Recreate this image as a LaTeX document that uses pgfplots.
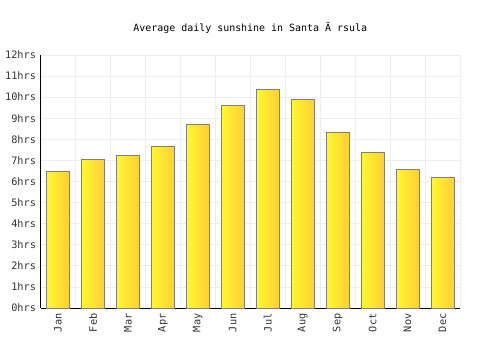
\documentclass[border=0pt]{standalone}
\usepackage{fontspec}
\setmainfont{DejaVu Sans Mono}
\usepackage{pgfplots}
\pgfplotsset{compat=1.18}
\definecolor{barL}{HTML}{FFF830}
\definecolor{barR}{HTML}{FFCF33}
\definecolor{barE}{HTML}{808080}
\definecolor{gridc}{HTML}{EEEEEE}
\pgfplotsset{mybar/.style={draw=barE, line width=0.8pt, left color=barL, right color=barR}}
\begin{document}
\begin{tikzpicture}[x=1bp,y=1bp]
\path (0,0) rectangle (500,350);
\begin{axis}[
  at={(40.5bp,42bp)}, anchor=south west,
  scale only axis, width=419.5bp, height=253bp,
  xmin=-0.5, xmax=11.5, ymin=0, ymax=12,
  axis x line*=bottom, axis y line*=left,
  axis line style={-, black, line width=0.8pt},
  xtick={0,...,11},
  xticklabels={Jan,Feb,Mar,Apr,May,Jun,Jul,Aug,Sep,Oct,Nov,Dec},
  minor xtick={-0.5,0.5,...,11.5},
  ytick={0,...,12},
  yticklabel={\pgfmathprintnumber{\tick}hrs},
  /pgf/number format/assume math mode=true,
  major tick length=0pt, minor tick length=0pt,
  ymajorgrids, xminorgrids,
  grid style={gridc, line width=0.8pt},
  minor grid style={gridc, line width=0.8pt},
  tick label style={font=\fontsize{10.3}{12}\selectfont, text=black!80},
  xticklabel style={rotate=90, anchor=east, xshift=-2bp},
  yticklabel style={xshift=-1bp},
  title={Average daily sunshine in Santa Ã rsula},
  title style={font=\fontsize{10}{12}\selectfont, anchor=center, at={(axis description cs:0.5,1)}, yshift=21bp},
  ybar, bar width=23bp, bar shift=0pt,
  clip=false,
]
\addplot[mybar] coordinates {(0,6.48)};
\addplot[mybar] coordinates {(1,7.05)};
\addplot[mybar] coordinates {(2,7.24)};
\addplot[mybar] coordinates {(3,7.66)};
\addplot[mybar] coordinates {(4,8.71)};
\addplot[mybar] coordinates {(5,9.61)};
\addplot[mybar] coordinates {(6,10.37)};
\addplot[mybar] coordinates {(7,9.89)};
\addplot[mybar] coordinates {(8,8.33)};
\addplot[mybar] coordinates {(9,7.38)};
\addplot[mybar] coordinates {(10,6.57)};
\addplot[mybar] coordinates {(11,6.19)};
\end{axis}
\end{tikzpicture}
\end{document}
